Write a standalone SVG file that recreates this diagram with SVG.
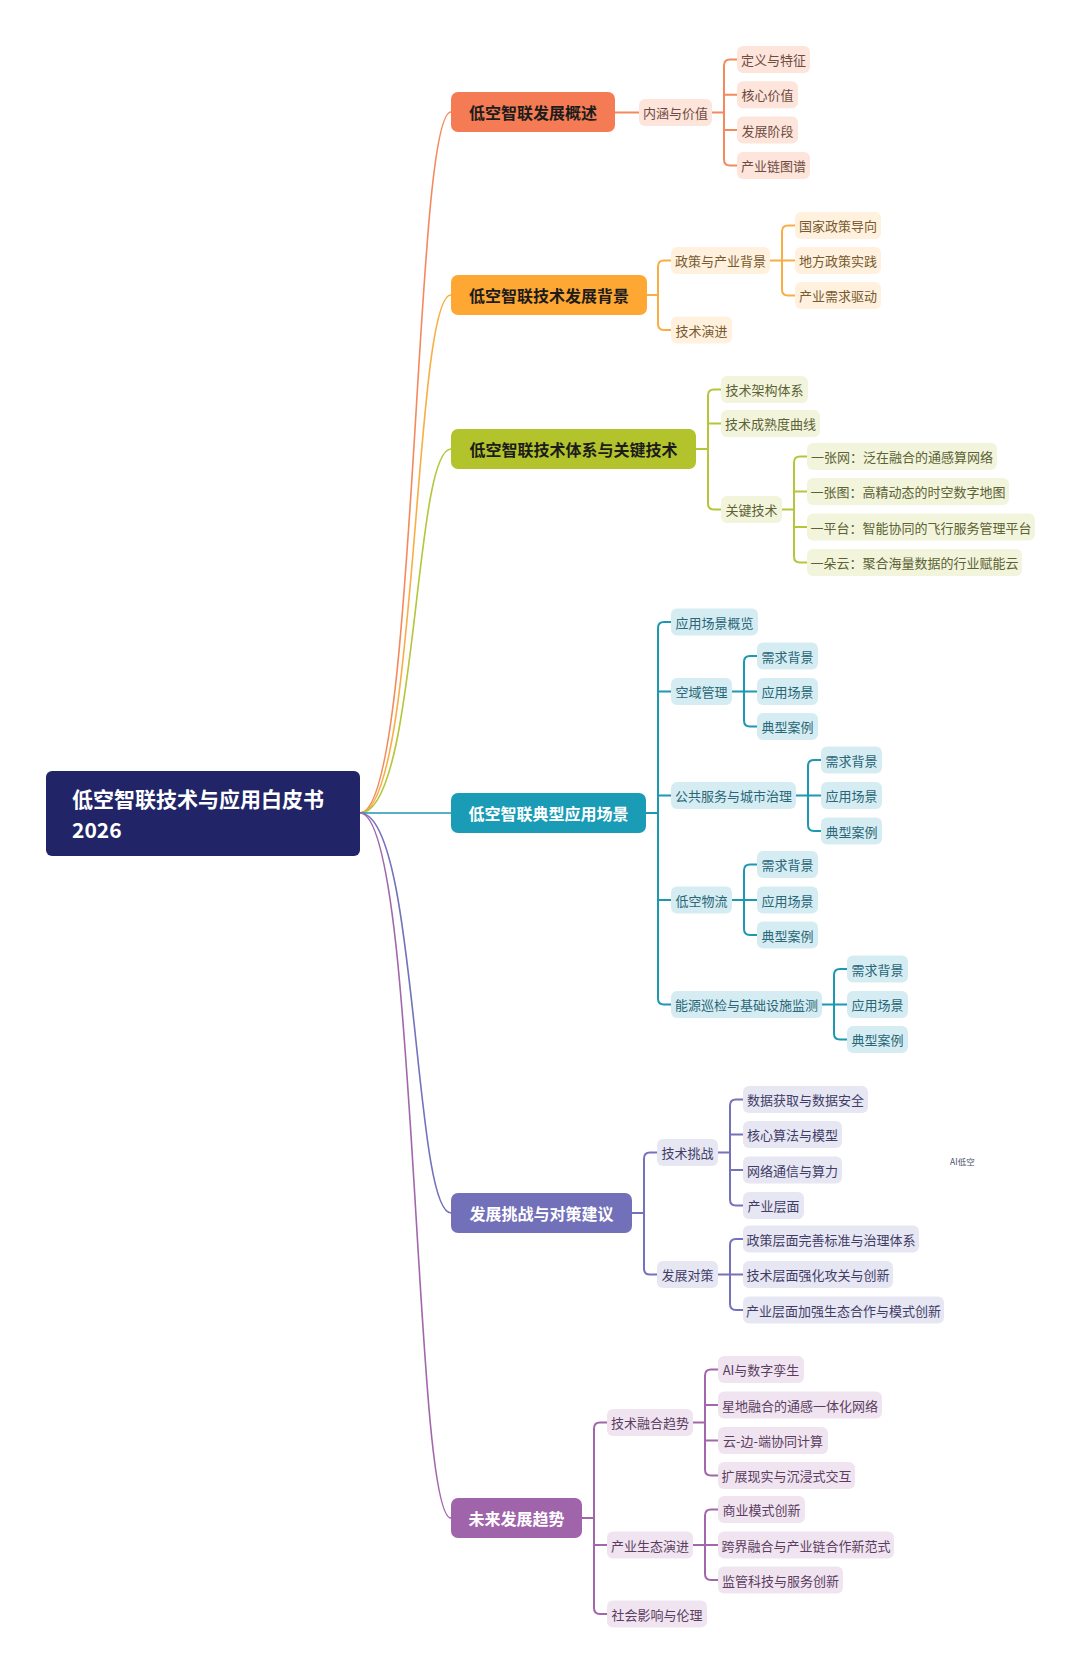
<svg xmlns="http://www.w3.org/2000/svg" width="1080" height="1673" viewBox="0 0 1080 1673">
<style>
text{font-family:"Noto Sans CJK SC","Noto Sans",sans-serif;dominant-baseline:central;}
.m{font-size:16px;font-weight:bold;text-anchor:middle;}
.c{font-size:13px;text-anchor:middle;}
.dk{fill:#1c1c1c}.wt{fill:#ffffff}
.l{fill:none;stroke-width:2;stroke-linecap:round;stroke-linejoin:round}
.r{fill:none;stroke-width:1.6}
.o1{fill:#F47B53}.o2{fill:#FDE5DC}.ot{fill:#6d4b3f}
.a1{fill:#FFA733}.a2{fill:#FFF1DE}.at{fill:#765a31}
.g1{fill:#B2C32B}.g2{fill:#F2F5DC}.gt{fill:#5c6235}
.t1{fill:#1A9BB6}.t2{fill:#D5EDF2}.tt{fill:#2a6677}
.p1{fill:#7270B8}.p2{fill:#E7E6F3}.pt{fill:#3f3d66}
.f1{fill:#A064AA}.f2{fill:#F0E4F1}.ft{fill:#5b3e5f}
.so{stroke:#F4895E}.sa{stroke:#F8AE45}.sg{stroke:#B5C63A}.st{stroke:#1D98B3}.sp{stroke:#7472BA}.sf{stroke:#A267AB}
</style>
<rect width="1080" height="1673" fill="#ffffff"/>
<g id="connectors">
<path class="r so" d="M 360 813 C 418 813 413 112 451 112"/>
<path class="r sa" d="M 360 813 C 418 813 413 295 451 295"/>
<path class="r sg" d="M 360 813 C 418 813 413 449 451 449"/>
<path class="r st" d="M 360 813 H 451"/>
<path class="r sp" d="M 360 813 C 418 813 413 1213 451 1213"/>
<path class="r sf" d="M 360 813 C 418 813 413 1518 451 1518"/>
<path class="l so" d="M 615 112.5 H 639"/>
<path class="l so" d="M 712 112.5 H 724 M 737 59.5 H 730 Q 724 59.5 724 65.5 V 159.4 Q 724 165.4 730 165.4 H 737 M 724 94.8 H 737 M 724 130.1 H 737"/>
<path class="l sa" d="M 647 295 H 658 M 671 260.5 H 664 Q 658 260.5 658 266.5 V 324 Q 658 330 664 330 H 671"/>
<path class="l sa" d="M 770 260.5 H 782 M 795 225.5 H 788 Q 782 225.5 782 231.5 V 289.5 Q 782 295.5 788 295.5 H 795 M 782 260.5 H 795"/>
<path class="l sg" d="M 696 449 H 708 M 721 389.5 H 714 Q 708 389.5 708 395.5 V 503.5 Q 708 509.5 714 509.5 H 721 M 708 423.5 H 721"/>
<path class="l sg" d="M 782 509.5 H 794 M 807 456.5 H 800 Q 794 456.5 794 462.5 V 556.5 Q 794 562.5 800 562.5 H 807 M 794 491.5 H 807 M 794 527 H 807"/>
<path class="l st" d="M 646 813 H 658 M 671 622 H 664 Q 658 622 658 628 V 998.5 Q 658 1004.5 664 1004.5 H 671 M 658 691.5 H 671 M 658 795.5 H 671 M 658 900 H 671"/>
<path class="l st" d="M 732 691.5 H 744 M 757 656 H 750 Q 744 656 744 662 V 720.5 Q 744 726.5 750 726.5 H 757 M 744 691.5 H 757"/>
<path class="l st" d="M 796 795.5 H 808 M 821 760 H 814 Q 808 760 808 766 V 825 Q 808 831 814 831 H 821 M 808 795.5 H 821"/>
<path class="l st" d="M 732 900 H 744 M 757 864.5 H 750 Q 744 864.5 744 870.5 V 929 Q 744 935 750 935 H 757 M 744 900 H 757"/>
<path class="l st" d="M 822 1004.5 H 834 M 847 969 H 840 Q 834 969 834 975 V 1033.5 Q 834 1039.5 840 1039.5 H 847 M 834 1004.5 H 847"/>
<path class="l sp" d="M 632 1213 H 644 M 657 1152.5 H 650 Q 644 1152.5 644 1158.5 V 1268.5 Q 644 1274.5 650 1274.5 H 657"/>
<path class="l sp" d="M 718 1152.5 H 730 M 743 1099.5 H 736 Q 730 1099.5 730 1105.5 V 1199.5 Q 730 1205.5 736 1205.5 H 743 M 730 1134.5 H 743 M 730 1170 H 743"/>
<path class="l sp" d="M 718 1274.5 H 730 M 743 1239 H 736 Q 730 1239 730 1245 V 1304 Q 730 1310 736 1310 H 743 M 730 1274.5 H 743"/>
<path class="l sf" d="M 582 1518 H 594 M 607 1422.5 H 600 Q 594 1422.5 594 1428.5 V 1608 Q 594 1614 600 1614 H 607 M 594 1545 H 607"/>
<path class="l sf" d="M 693 1422.5 H 705 M 718 1369.5 H 711 Q 705 1369.5 705 1375.5 V 1469.5 Q 705 1475.5 711 1475.5 H 718 M 705 1405 H 718 M 705 1440.5 H 718"/>
<path class="l sf" d="M 693 1545 H 705 M 718 1509.5 H 711 Q 705 1509.5 705 1515.5 V 1574 Q 705 1580 711 1580 H 718 M 705 1545 H 718"/>
</g>
<g id="root"><rect x="46" y="771" width="314" height="85" rx="6" fill="#212567"/>
<text x="72" y="798" class="wt" style="font-size:21px;font-weight:bold">低空智联技术与应用白皮书</text>
<text x="72" y="829" class="wt" style="font-size:21px;font-weight:bold">2026</text></g>

<g id="b1"><rect class="o1" x="451" y="92" width="164" height="40" rx="7"/><text class="m dk" x="533" y="112">低空智联发展概述</text></g>
<g id="b1-1"><rect class="o2" x="639" y="99" width="73" height="27" rx="6"/><text class="c ot" x="675.5" y="112.5">内涵与价值</text></g>
<g id="b1-1-1"><rect class="o2" x="737" y="46" width="73" height="27" rx="6"/><text class="c ot" x="773.5" y="59.5">定义与特征</text></g>
<g id="b1-1-2"><rect class="o2" x="737" y="81.3" width="61" height="27" rx="6"/><text class="c ot" x="767.5" y="94.8">核心价值</text></g>
<g id="b1-1-3"><rect class="o2" x="737" y="116.6" width="61" height="27" rx="6"/><text class="c ot" x="767.5" y="130.1">发展阶段</text></g>
<g id="b1-1-4"><rect class="o2" x="737" y="151.9" width="73" height="27" rx="6"/><text class="c ot" x="773.5" y="165.4">产业链图谱</text></g>

<g id="b2"><rect class="a1" x="451" y="275" width="196" height="40" rx="7"/><text class="m dk" x="549" y="295">低空智联技术发展背景</text></g>
<g id="b2-1"><rect class="a2" x="671" y="247" width="99" height="27" rx="6"/><text class="c at" x="720.5" y="260.5">政策与产业背景</text></g>
<g id="b2-1-1"><rect class="a2" x="795" y="212" width="86" height="27" rx="6"/><text class="c at" x="838" y="225.5">国家政策导向</text></g>
<g id="b2-1-2"><rect class="a2" x="795" y="247" width="86" height="27" rx="6"/><text class="c at" x="838" y="260.5">地方政策实践</text></g>
<g id="b2-1-3"><rect class="a2" x="795" y="282" width="86" height="27" rx="6"/><text class="c at" x="838" y="295.5">产业需求驱动</text></g>
<g id="b2-2"><rect class="a2" x="671" y="316.5" width="61" height="27" rx="6"/><text class="c at" x="701.5" y="330">技术演进</text></g>

<g id="b3"><rect class="g1" x="451" y="429" width="245" height="40" rx="7"/><text class="m dk" x="573.5" y="449">低空智联技术体系与关键技术</text></g>
<g id="b3-1"><rect class="g2" x="721" y="376" width="87" height="27" rx="6"/><text class="c gt" x="764.5" y="389.5">技术架构体系</text></g>
<g id="b3-2"><rect class="g2" x="721" y="410" width="99" height="27" rx="6"/><text class="c gt" x="770.5" y="423.5">技术成熟度曲线</text></g>
<g id="b3-3"><rect class="g2" x="721" y="496" width="61" height="27" rx="6"/><text class="c gt" x="751.5" y="509.5">关键技术</text></g>
<g id="b3-3-1"><rect class="g2" x="807" y="443" width="190" height="27" rx="6"/><text class="c gt" x="902" y="456.5">一张网：泛在融合的通感算网络</text></g>
<g id="b3-3-2"><rect class="g2" x="807" y="478" width="202" height="27" rx="6"/><text class="c gt" x="908" y="491.5">一张图：高精动态的时空数字地图</text></g>
<g id="b3-3-3"><rect class="g2" x="807" y="513.5" width="228" height="27" rx="6"/><text class="c gt" x="921" y="527">一平台：智能协同的飞行服务管理平台</text></g>
<g id="b3-3-4"><rect class="g2" x="807" y="549" width="215" height="27" rx="6"/><text class="c gt" x="914.5" y="562.5">一朵云：聚合海量数据的行业赋能云</text></g>

<g id="b4"><rect class="t1" x="451" y="793" width="195" height="40" rx="7"/><text class="m wt" x="548.5" y="813">低空智联典型应用场景</text></g>
<g id="b4-1"><rect class="t2" x="671" y="608.5" width="87" height="27" rx="6"/><text class="c tt" x="714.5" y="622">应用场景概览</text></g>
<g id="b4-2"><rect class="t2" x="671" y="678" width="61" height="27" rx="6"/><text class="c tt" x="701.5" y="691.5">空域管理</text></g>
<g id="b4-2-1"><rect class="t2" x="757" y="642.5" width="61" height="27" rx="6"/><text class="c tt" x="787.5" y="656">需求背景</text></g>
<g id="b4-2-2"><rect class="t2" x="757" y="678" width="61" height="27" rx="6"/><text class="c tt" x="787.5" y="691.5">应用场景</text></g>
<g id="b4-2-3"><rect class="t2" x="757" y="713" width="61" height="27" rx="6"/><text class="c tt" x="787.5" y="726.5">典型案例</text></g>
<g id="b4-3"><rect class="t2" x="671" y="782" width="125" height="27" rx="6"/><text class="c tt" x="733.5" y="795.5">公共服务与城市治理</text></g>
<g id="b4-3-1"><rect class="t2" x="821" y="746.5" width="61" height="27" rx="6"/><text class="c tt" x="851.5" y="760">需求背景</text></g>
<g id="b4-3-2"><rect class="t2" x="821" y="782" width="61" height="27" rx="6"/><text class="c tt" x="851.5" y="795.5">应用场景</text></g>
<g id="b4-3-3"><rect class="t2" x="821" y="817.5" width="61" height="27" rx="6"/><text class="c tt" x="851.5" y="831">典型案例</text></g>
<g id="b4-4"><rect class="t2" x="671" y="886.5" width="61" height="27" rx="6"/><text class="c tt" x="701.5" y="900">低空物流</text></g>
<g id="b4-4-1"><rect class="t2" x="757" y="851" width="61" height="27" rx="6"/><text class="c tt" x="787.5" y="864.5">需求背景</text></g>
<g id="b4-4-2"><rect class="t2" x="757" y="886.5" width="61" height="27" rx="6"/><text class="c tt" x="787.5" y="900">应用场景</text></g>
<g id="b4-4-3"><rect class="t2" x="757" y="921.5" width="61" height="27" rx="6"/><text class="c tt" x="787.5" y="935">典型案例</text></g>
<g id="b4-5"><rect class="t2" x="671" y="991" width="151" height="27" rx="6"/><text class="c tt" x="746.5" y="1004.5">能源巡检与基础设施监测</text></g>
<g id="b4-5-1"><rect class="t2" x="847" y="955.5" width="61" height="27" rx="6"/><text class="c tt" x="877.5" y="969">需求背景</text></g>
<g id="b4-5-2"><rect class="t2" x="847" y="991" width="61" height="27" rx="6"/><text class="c tt" x="877.5" y="1004.5">应用场景</text></g>
<g id="b4-5-3"><rect class="t2" x="847" y="1026" width="61" height="27" rx="6"/><text class="c tt" x="877.5" y="1039.5">典型案例</text></g>

<g id="b5"><rect class="p1" x="451" y="1193" width="181" height="40" rx="7"/><text class="m wt" x="541.5" y="1213">发展挑战与对策建议</text></g>
<g id="b5-1"><rect class="p2" x="657" y="1139" width="61" height="27" rx="6"/><text class="c pt" x="687.5" y="1152.5">技术挑战</text></g>
<g id="b5-1-1"><rect class="p2" x="743" y="1086" width="125" height="27" rx="6"/><text class="c pt" x="805.5" y="1099.5">数据获取与数据安全</text></g>
<g id="b5-1-2"><rect class="p2" x="743" y="1121" width="99" height="27" rx="6"/><text class="c pt" x="792.5" y="1134.5">核心算法与模型</text></g>
<g id="b5-1-3"><rect class="p2" x="743" y="1156.5" width="99" height="27" rx="6"/><text class="c pt" x="792.5" y="1170">网络通信与算力</text></g>
<g id="b5-1-4"><rect class="p2" x="743" y="1192" width="61" height="27" rx="6"/><text class="c pt" x="773.5" y="1205.5">产业层面</text></g>
<g id="b5-2"><rect class="p2" x="657" y="1261" width="61" height="27" rx="6"/><text class="c pt" x="687.5" y="1274.5">发展对策</text></g>
<g id="b5-2-1"><rect class="p2" x="743" y="1225.5" width="176" height="27" rx="6"/><text class="c pt" x="831" y="1239">政策层面完善标准与治理体系</text></g>
<g id="b5-2-2"><rect class="p2" x="743" y="1261" width="150" height="27" rx="6"/><text class="c pt" x="818" y="1274.5">技术层面强化攻关与创新</text></g>
<g id="b5-2-3"><rect class="p2" x="743" y="1296.5" width="201" height="27" rx="6"/><text class="c pt" x="843.5" y="1310">产业层面加强生态合作与模式创新</text></g>

<g id="b6"><rect class="f1" x="451" y="1498" width="131" height="40" rx="7"/><text class="m wt" x="516.5" y="1518">未来发展趋势</text></g>
<g id="b6-1"><rect class="f2" x="607" y="1409" width="86" height="27" rx="6"/><text class="c ft" x="650" y="1422.5">技术融合趋势</text></g>
<g id="b6-1-1"><rect class="f2" x="718" y="1356" width="86" height="27" rx="6"/><text class="c ft" x="761" y="1369.5">AI与数字孪生</text></g>
<g id="b6-1-2"><rect class="f2" x="718" y="1391.5" width="164" height="27" rx="6"/><text class="c ft" x="800" y="1405">星地融合的通感一体化网络</text></g>
<g id="b6-1-3"><rect class="f2" x="718" y="1427" width="110" height="27" rx="6"/><text class="c ft" x="773" y="1440.5">云-边-端协同计算</text></g>
<g id="b6-1-4"><rect class="f2" x="718" y="1462" width="137" height="27" rx="6"/><text class="c ft" x="786.5" y="1475.5">扩展现实与沉浸式交互</text></g>
<g id="b6-2"><rect class="f2" x="607" y="1531.5" width="86" height="27" rx="6"/><text class="c ft" x="650" y="1545">产业生态演进</text></g>
<g id="b6-2-1"><rect class="f2" x="718" y="1496" width="87" height="27" rx="6"/><text class="c ft" x="761.5" y="1509.5">商业模式创新</text></g>
<g id="b6-2-2"><rect class="f2" x="718" y="1531.5" width="176" height="27" rx="6"/><text class="c ft" x="806" y="1545">跨界融合与产业链合作新范式</text></g>
<g id="b6-2-3"><rect class="f2" x="718" y="1566.5" width="125" height="27" rx="6"/><text class="c ft" x="780.5" y="1580">监管科技与服务创新</text></g>
<g id="b6-3"><rect class="f2" x="607" y="1600.5" width="100" height="27" rx="6"/><text class="c ft" x="657" y="1614">社会影响与伦理</text></g>

<g id="note"><text x="950" y="1161" style="font-size:8.5px;fill:#4a4f6a">AI低空</text></g>
</svg>
